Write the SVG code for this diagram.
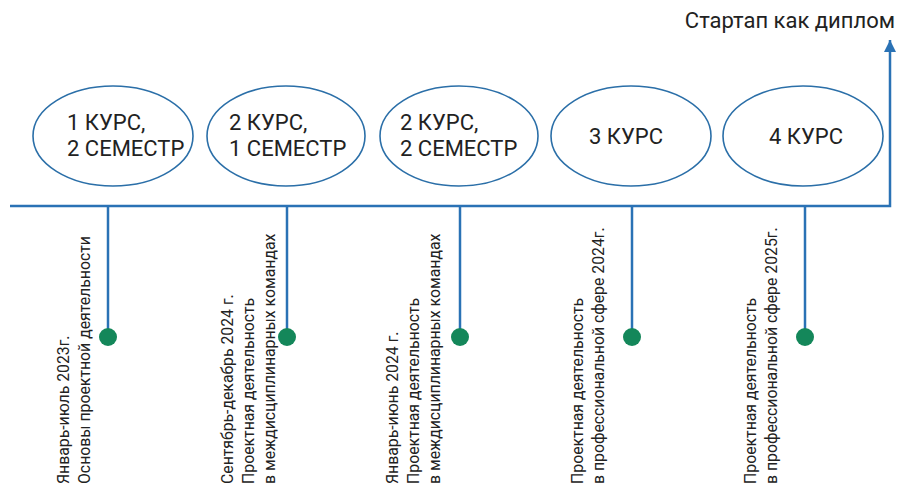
<svg xmlns="http://www.w3.org/2000/svg" width="898" height="486" viewBox="0 0 898 486">
<style>
.ell{fill:#fff;stroke:#2b6fa8;stroke-width:1.6}
.ln{fill:none;stroke:#2a72b5;stroke-width:2.5}
.dot{fill:#14875a}
.t{font-family:Roboto,"Liberation Sans",sans-serif;fill:#222}
.big{font-size:22px}
.sm{font-size:15.8px}
</style>
<defs>
<marker id="arr" viewBox="0 0 10 10" refX="10" refY="5" markerWidth="4.8" markerHeight="5" orient="auto">
<path d="M0,0 L10,5 L0,10 z" fill="#2a72b5"/>
</marker>
</defs>
<g id="connectors">
<polyline class="ln" points="10,206 890,206 890,40" marker-end="url(#arr)"/>
<line class="ln" x1="108" y1="206" x2="108" y2="337"/>
<line class="ln" x1="287" y1="206" x2="287" y2="337"/>
<line class="ln" x1="460" y1="206" x2="460" y2="337"/>
<line class="ln" x1="632" y1="206" x2="632" y2="337"/>
<line class="ln" x1="805" y1="206" x2="805" y2="337"/>
</g>
<g id="title"><text class="t" x="895" y="28" text-anchor="end" font-size="22">Стартап как диплом</text></g>
<g id="n1"><ellipse class="ell" cx="113" cy="136" rx="80" ry="50"/><text class="t big" x="67" y="130">1 КУРС,</text><text class="t big" x="67" y="156">2 СЕМЕСТР</text></g>
<g id="n2"><ellipse class="ell" cx="286" cy="136" rx="79" ry="50"/><text class="t big" x="229" y="130">2 КУРС,</text><text class="t big" x="229" y="156">1 СЕМЕСТР</text></g>
<g id="n3"><ellipse class="ell" cx="459" cy="136" rx="79" ry="50"/><text class="t big" x="400" y="130">2 КУРС,</text><text class="t big" x="400" y="156">2 СЕМЕСТР</text></g>
<g id="n4"><ellipse class="ell" cx="631" cy="136" rx="80" ry="50"/><text class="t big" x="626" y="144" text-anchor="middle">3 КУРС</text></g>
<g id="n5"><ellipse class="ell" cx="803" cy="136" rx="80" ry="50"/><text class="t big" x="806" y="144" text-anchor="middle">4 КУРС</text></g>
<g id="d1"><circle class="dot" cx="108" cy="337" r="9"/><text class="t sm" transform="translate(69,484) rotate(-90)"><tspan x="0" y="0">Январь-июль 2023г.</tspan><tspan x="0" y="21">Основы проектной деятельности</tspan></text></g>
<g id="d2"><circle class="dot" cx="287" cy="337" r="9"/><text class="t sm" transform="translate(233,484) rotate(-90)"><tspan x="0" y="0">Сентябрь-декабрь 2024 г.</tspan><tspan x="0" y="21">Проектная деятельность</tspan><tspan x="0" y="42">в междисциплинарных командах</tspan></text></g>
<g id="d3"><circle class="dot" cx="460" cy="337" r="9"/><text class="t sm" transform="translate(398,484) rotate(-90)"><tspan x="0" y="0">Январь-июнь 2024 г.</tspan><tspan x="0" y="21">Проектная деятельность</tspan><tspan x="0" y="42">в междисциплинарных командах</tspan></text></g>
<g id="d4"><circle class="dot" cx="632" cy="337" r="9"/><text class="t sm" transform="translate(583,484) rotate(-90)"><tspan x="0" y="0">Проектная деятельность</tspan><tspan x="0" y="21">в профессиональной сфере 2024г.</tspan></text></g>
<g id="d5"><circle class="dot" cx="805" cy="337" r="9"/><text class="t sm" transform="translate(756,484) rotate(-90)"><tspan x="0" y="0">Проектная деятельность</tspan><tspan x="0" y="21">в профессиональной сфере 2025г.</tspan></text></g>
</svg>
